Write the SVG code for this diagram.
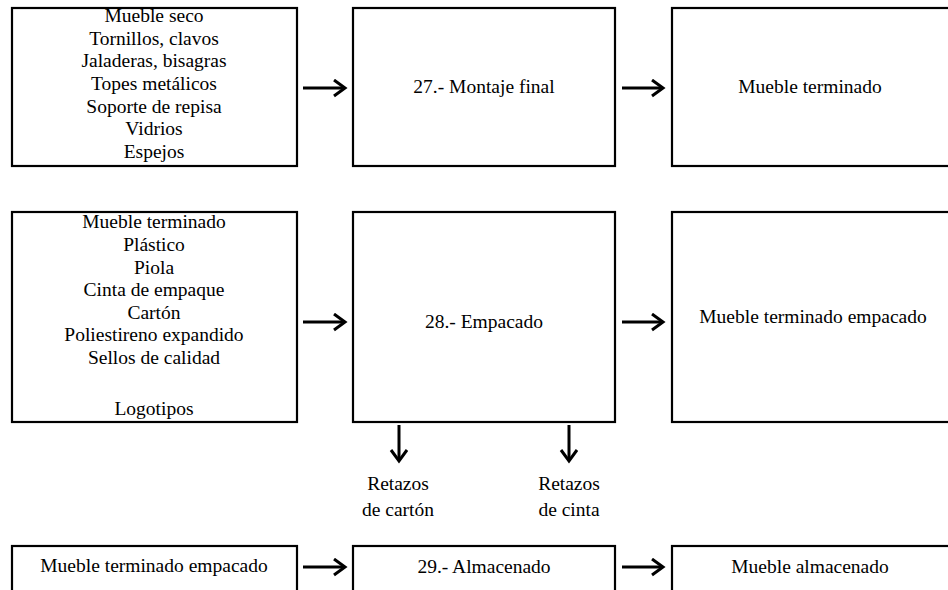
<svg xmlns="http://www.w3.org/2000/svg" width="948" height="590" viewBox="0 0 948 590">
<defs>
<style>
.box{fill:#fff;stroke:#000;stroke-width:2.2}
.t{font-family:'Liberation Serif','Times New Roman',Times,'DejaVu Serif',serif;font-size:19.5px;fill:#000;text-anchor:middle}
.c{fill:none;stroke:#000;stroke-width:3}
</style>
<marker id="ah" markerWidth="16" markerHeight="20" refX="13" refY="9" orient="auto" markerUnits="userSpaceOnUse">
<path d="M2,1 L13,9 L2,17" fill="none" stroke="#000" stroke-width="3"/>
</marker>
</defs>
<g id="n1"><rect class="box" x="12" y="8" width="285" height="158"/>
<text class="t" x="154" y="22">Mueble seco</text>
<text class="t" x="154" y="45">Tornillos, clavos</text>
<text class="t" x="154" y="67">Jaladeras, bisagras</text>
<text class="t" x="154" y="90">Topes metálicos</text>
<text class="t" x="154" y="113">Soporte de repisa</text>
<text class="t" x="154" y="135">Vidrios</text>
<text class="t" x="154" y="158">Espejos</text></g>
<g id="n2"><rect class="box" x="353" y="8" width="262" height="158"/>
<text class="t" x="484" y="93">27.- Montaje final</text></g>
<g id="n3"><rect class="box" x="672" y="8" width="290" height="158"/>
<text class="t" x="810" y="93">Mueble terminado</text></g>
<g id="n4"><rect class="box" x="12" y="212" width="285" height="210"/>
<text class="t" x="154" y="228">Mueble terminado</text>
<text class="t" x="154" y="251">Plástico</text>
<text class="t" x="154" y="274">Piola</text>
<text class="t" x="154" y="296">Cinta de empaque</text>
<text class="t" x="154" y="319">Cartón</text>
<text class="t" x="154" y="341">Poliestireno expandido</text>
<text class="t" x="154" y="364">Sellos de calidad</text>
<text class="t" x="154" y="415">Logotipos</text></g>
<g id="n5"><rect class="box" x="353" y="212" width="262" height="210"/>
<text class="t" x="484" y="328">28.- Empacado</text></g>
<g id="n6"><rect class="box" x="672" y="212" width="290" height="210"/>
<text class="t" x="813" y="323">Mueble terminado empacado</text></g>
<g id="n7"><text class="t" x="398" y="490">Retazos</text>
<text class="t" x="398" y="516">de cartón</text></g>
<g id="n8"><text class="t" x="569" y="490">Retazos</text>
<text class="t" x="569" y="516">de cinta</text></g>
<g id="n9"><rect class="box" x="12" y="546" width="285" height="60"/>
<text class="t" x="154" y="572">Mueble terminado empacado</text></g>
<g id="n10"><rect class="box" x="353" y="546" width="262" height="60"/>
<text class="t" x="484" y="573">29.- Almacenado</text></g>
<g id="n11"><rect class="box" x="672" y="546" width="290" height="60"/>
<text class="t" x="810" y="573">Mueble almacenado</text></g>
<g id="connectors">
<line class="c" x1="303" y1="88" x2="345" y2="88" marker-end="url(#ah)"/>
<line class="c" x1="622" y1="88" x2="663" y2="88" marker-end="url(#ah)"/>
<line class="c" x1="303" y1="322" x2="345" y2="322" marker-end="url(#ah)"/>
<line class="c" x1="622" y1="322" x2="663" y2="322" marker-end="url(#ah)"/>
<line class="c" x1="399" y1="425" x2="399" y2="461" marker-end="url(#ah)"/>
<line class="c" x1="569" y1="425" x2="569" y2="461" marker-end="url(#ah)"/>
<line class="c" x1="303" y1="567" x2="345" y2="567" marker-end="url(#ah)"/>
<line class="c" x1="622" y1="567" x2="663" y2="567" marker-end="url(#ah)"/>
</g>
</svg>
